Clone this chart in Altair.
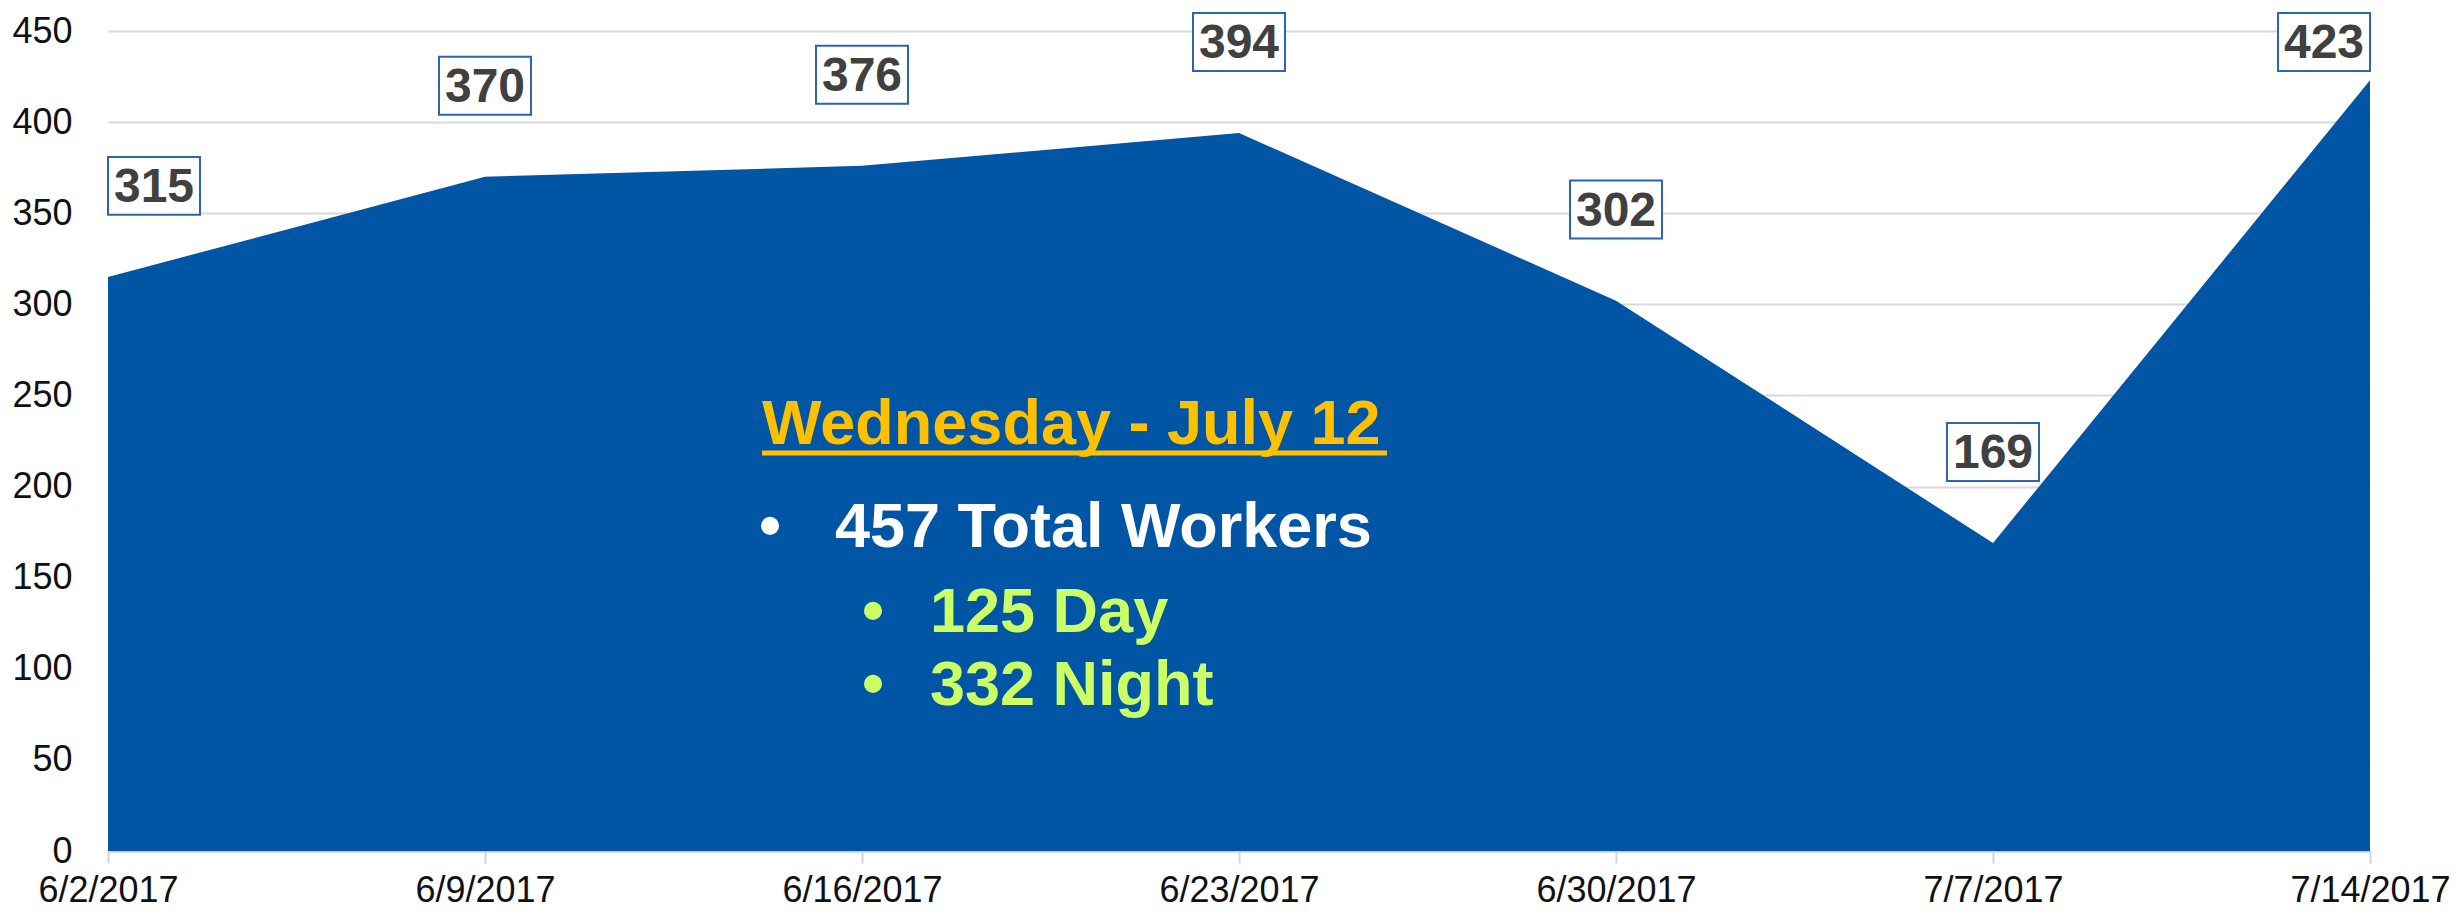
import altair as alt
import pandas as pd

# ---- data ----
dates = ["6/2/2017", "6/9/2017", "6/16/2017", "6/23/2017", "6/30/2017", "7/7/2017", "7/14/2017"]
workers = [315, 370, 376, 394, 302, 169, 423]
y_ticks = [0, 50, 100, 150, 200, 250, 300, 350, 400, 450]

note_title = "Wednesday - July 12"
note_total = "457 Total Workers"
note_day = "125 Day"
note_night = "332 Night"

df = pd.DataFrame({"date": dates, "value": workers})

FONT = "Liberation Sans"
BLUE = "#0155A5"
Y_MAX = 450
LABEL_GAP = 50      # data units between a point and its label box
LABEL_CEIL = 444    # highest label position (keeps the top box on the page)
BOX_W = 92          # label box width in px
BOX_SHIFT = BOX_W / 2

x_enc = alt.X(
    "date:O",
    sort=dates,
    scale=alt.Scale(type="point", padding=0),
    axis=alt.Axis(
        title=None,
        labelAngle=0,
        labelFont=FONT,
        labelFontSize=36,
        labelColor="#111111",
        labelPadding=10,
        labelBound=False,
        ticks=True,
        tickSize=12,
        tickColor="#d4d4d4",
        tickWidth=2,
        domain=True,
        domainColor="#c3cbd8",
        domainWidth=2,
        grid=False,
    ),
)
y_axis = alt.Axis(
    title=None,
    values=y_ticks,
    labelFont=FONT,
    labelFontSize=36,
    labelColor="#111111",
    labelPadding=36,
    ticks=False,
    domain=False,
    grid=True,
    gridColor="#d9d9d9",
    gridWidth=2,
)
y_scale = alt.Scale(domain=[0, Y_MAX], nice=False)
y_enc = alt.Y("value:Q", scale=y_scale, axis=y_axis, title=None)
y_lab = alt.Y("label_y:Q", scale=y_scale, axis=y_axis, title=None)

base = alt.Chart(df)

area = base.mark_area(color=BLUE, opacity=1).encode(x=x_enc, y=y_enc)

# label boxes sit above each point, kept inside the plot area
lab_base = base.transform_calculate(
    label_y=f"min(datum.value + {LABEL_GAP}, {LABEL_CEIL})"
)


def label_layers(filter_expr, shift):
    sub = lab_base.transform_filter(filter_expr)
    box = sub.mark_point(
        shape="M-1,-0.63L1,-0.63L1,0.63L-1,0.63Z",
        size=BOX_W * BOX_W,
        filled=True,
        fill="white",
        stroke="#2D63B0",
        strokeWidth=2,
        opacity=1,
        xOffset=shift,
    ).encode(x=x_enc, y=y_lab)
    txt = sub.mark_text(
        font=FONT,
        fontWeight="bold",
        fontSize=48,
        color="#404040",
        baseline="middle",
        dy=2,
        xOffset=shift,
    ).encode(x=x_enc, y=y_lab, text="value:Q")
    return [box, txt]


first, last = dates[0], dates[-1]
layers_lab = (
    label_layers(f"datum.date == '{first}'", BOX_SHIFT)
    + label_layers(f"datum.date != '{first}' && datum.date != '{last}'", 0)
    + label_layers(f"datum.date == '{last}'", -BOX_SHIFT)
)

one = pd.DataFrame({"k": [0]})


def note(text, x, y, color, size=63):
    return alt.Chart(one).mark_text(
        text=text,
        font=FONT,
        fontWeight="bold",
        fontSize=size,
        color=color,
        align="left",
        baseline="alphabetic",
    ).encode(x=alt.value(x), y=alt.value(y))


title_txt = note(note_title, 654, 413, "#FFC000")
underline = alt.Chart(one).mark_rule(color="#FFC000", strokeWidth=5).encode(
    x=alt.value(654), x2=alt.value(1279), y=alt.value(422)
)
b1 = note("•", 651, 516, "white")
t1 = note(note_total, 727, 516, "white")
b2 = note("•", 754, 601, "#CCFF66")
t2 = note(note_day, 822, 601, "#CCFF66")
b3 = note("•", 754, 674, "#CCFF66")
t3 = note(note_night, 822, 674, "#CCFF66")

chart = (
    alt.layer(area, *layers_lab, title_txt, underline, b1, t1, b2, t2, b3, t3)
    .resolve_scale(y="shared")
    .properties(
        width=2262,
        height=820,
        autosize=alt.AutoSizeParams(type="none"),
        padding={"left": 100, "top": 23, "right": 80, "bottom": 57},
        background="white",
    )
    .configure_view(stroke=None)
)

chart.save("out.html", embed_options={"renderer": "svg", "actions": False})
